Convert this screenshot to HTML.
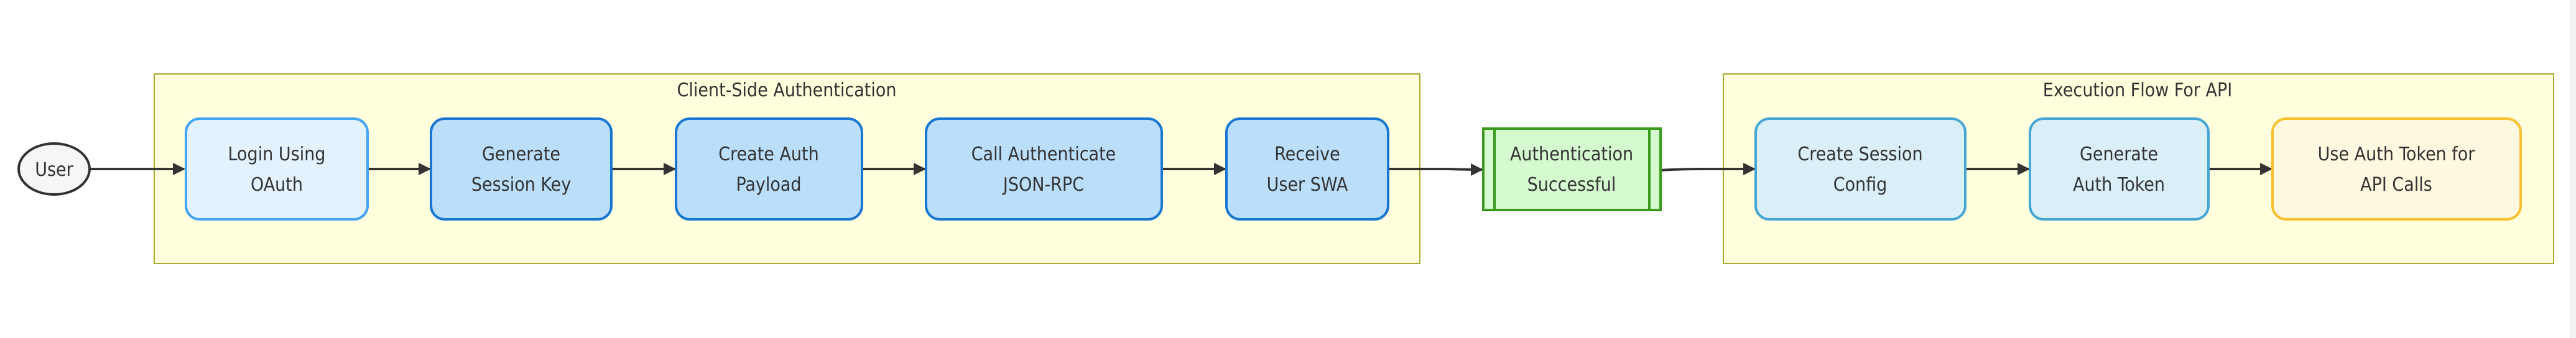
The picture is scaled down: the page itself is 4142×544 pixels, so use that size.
<!DOCTYPE html>
<html><head><meta charset="utf-8"><style>
html,body{margin:0;padding:0;background:#fff;}
svg{display:block;}
text{font-family:"DejaVu Sans Condensed","Liberation Sans",sans-serif;font-size:30px;fill:#333;text-anchor:middle;}
</style></head><body>
<svg width="4142" height="544" viewBox="0 0 4142 544" xmlns="http://www.w3.org/2000/svg">
<defs><marker id="a" viewBox="0 0 10 10" refX="9" refY="5" markerWidth="5" markerHeight="5" orient="auto"><path d="M0,0 L10,5 L0,10z" fill="#333"/></marker></defs>
<rect x="0" y="0" width="4142" height="544" fill="#fff"/>
<rect x="4132" y="0" width="10" height="544" fill="#f3f3f3"/>
<!-- clusters -->
<rect x="248" y="119" width="2035" height="305" fill="#ffffde" stroke="#aaaa33" stroke-width="2"/>
<text x="1265" y="155">Client-Side Authentication</text>
<rect x="2771" y="119" width="1335" height="305" fill="#ffffde" stroke="#aaaa33" stroke-width="2"/>
<text x="3437" y="155">Execution Flow For API</text>
<!-- edges -->
<g stroke="#333" stroke-width="4" fill="none" marker-end="url(#a)">
<line x1="145" y1="272" x2="296" y2="272"/>
<line x1="591" y1="272" x2="691" y2="272"/>
<line x1="983" y1="272" x2="1085" y2="272"/>
<line x1="1386" y1="272" x2="1487" y2="272"/>
<line x1="1868" y1="272" x2="1970" y2="272"/>
<path d="M2232,272 L2330,272 Q2360,273 2383,273"/>
<path d="M2670,274 Q2700,272 2740,272 L2821,272"/>
<line x1="3160" y1="272" x2="3262" y2="272"/>
<line x1="3551" y1="272" x2="3652" y2="272"/>
</g>
<!-- user -->
<ellipse cx="87" cy="272" rx="57" ry="41" fill="#f6f6f6" stroke="#333" stroke-width="4"/>
<text x="87" y="283">User</text>
<!-- nodes -->
<g stroke-width="4">
<rect x="299" y="191" width="292" height="162" rx="22" fill="#e3f2fd" stroke="#42a5f5"/>
<rect x="693" y="191" width="290" height="162" rx="22" fill="#bbdefb" stroke="#1976d2"/>
<rect x="1087" y="191" width="299" height="162" rx="22" fill="#bbdefb" stroke="#1976d2"/>
<rect x="1489" y="191" width="379" height="162" rx="22" fill="#bbdefb" stroke="#1976d2"/>
<rect x="1972" y="191" width="260" height="162" rx="22" fill="#bbdefb" stroke="#1976d2"/>
<rect x="2385" y="207" width="285" height="131" fill="#d5fad0" stroke="#3a9a1e"/>
<line x1="2403" y1="207" x2="2403" y2="338" stroke="#3a9a1e"/>
<line x1="2652" y1="207" x2="2652" y2="338" stroke="#3a9a1e"/>
<rect x="2823" y="191" width="337" height="162" rx="22" fill="#daeff8" stroke="#45a5d5"/>
<rect x="3264" y="191" width="287" height="162" rx="22" fill="#daeff8" stroke="#45a5d5"/>
<rect x="3654" y="191" width="399" height="162" rx="22" fill="#fff8e1" stroke="#fbc02d"/>
</g>
<g>
<text x="445" y="258">Login Using</text><text x="445" y="307">OAuth</text>
<text x="838" y="258">Generate</text><text x="838" y="307">Session Key</text>
<text x="1236" y="258">Create Auth</text><text x="1236" y="307">Payload</text>
<text x="1678" y="258">Call Authenticate</text><text x="1678" y="307">JSON-RPC</text>
<text x="2102" y="258">Receive</text><text x="2102" y="307">User SWA</text>
<text x="2527" y="258">Authentication</text><text x="2527" y="307">Successful</text>
<text x="2991" y="258">Create Session</text><text x="2991" y="307">Config</text>
<text x="3407" y="258">Generate</text><text x="3407" y="307">Auth Token</text>
<text x="3853" y="258">Use Auth Token for</text><text x="3853" y="307">API Calls</text>
</g>
</svg>
</body></html>
